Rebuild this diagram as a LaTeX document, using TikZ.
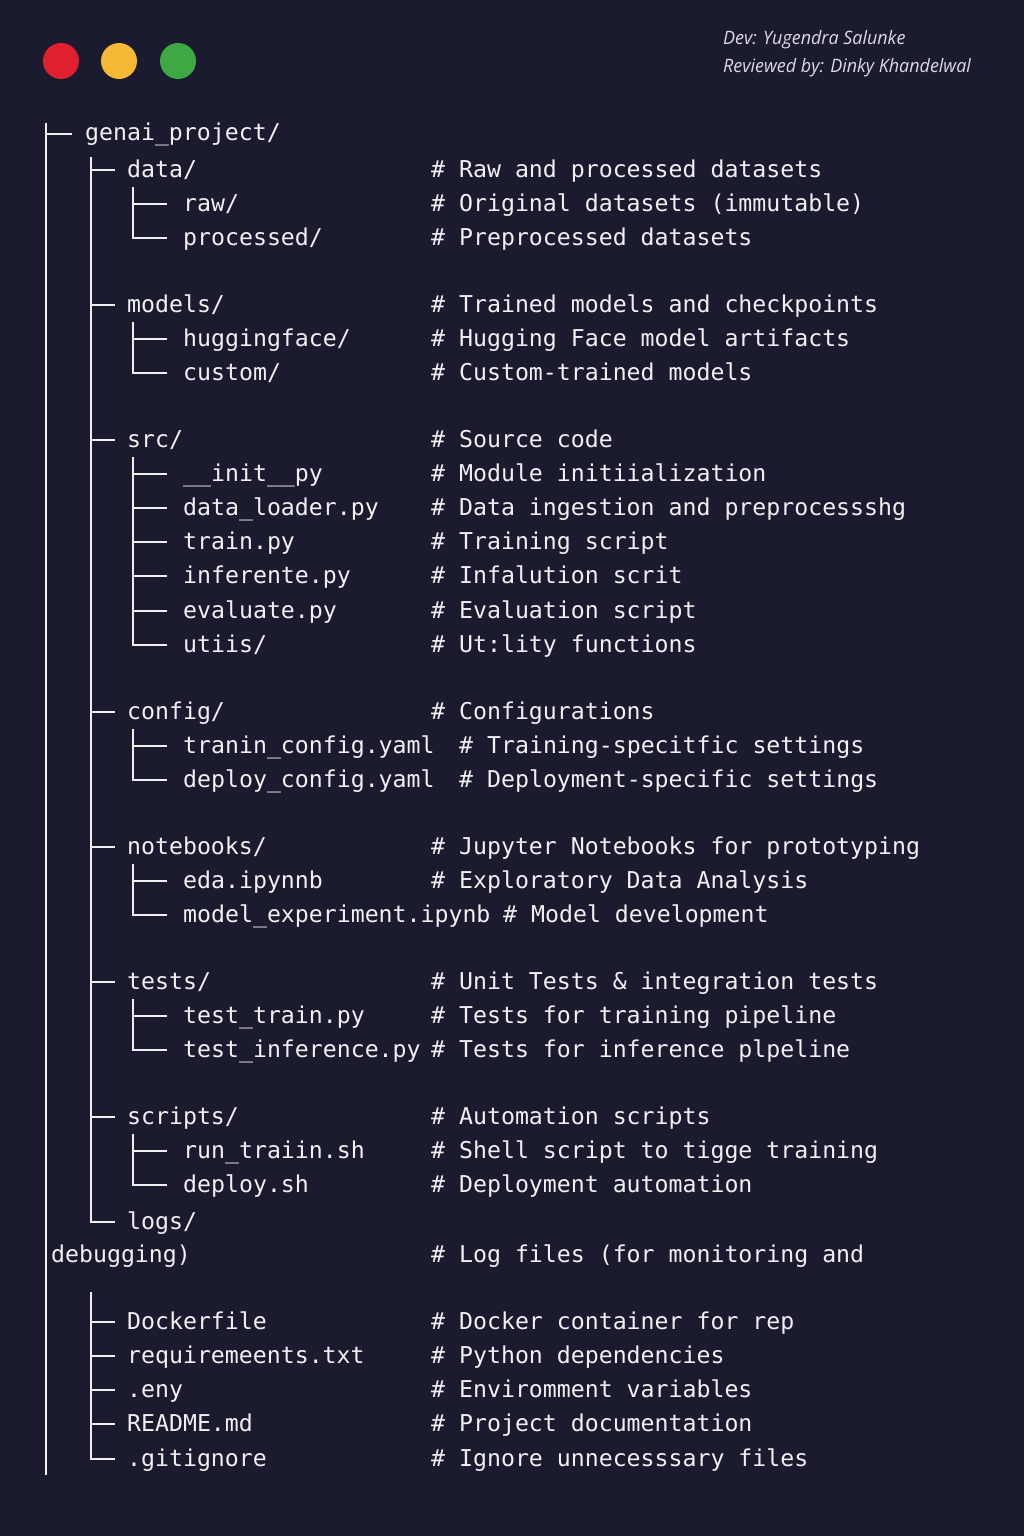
\documentclass[tikz,border=0pt]{standalone}
\usepackage{fontspec}
\newfontfamily\monofont{DejaVu Sans Mono}
\newfontfamily\signfont[FakeStretch=0.97]{Open Sans}
\definecolor{bg}{HTML}{1A1B2E}
\definecolor{fg}{HTML}{F0F0F2}
\definecolor{sg}{HTML}{DADBE2}
\definecolor{dred}{HTML}{E0202E}
\definecolor{dyel}{HTML}{F5B935}
\definecolor{dgrn}{HTML}{3EA843}
\newcommand\ent[6]{\node[tx] (#1) at (#2,#3+8) {#4}; \node[tx] (#1c) at (#5,#3+8) {#6};}
\begin{document}
\begin{tikzpicture}[x=1pt,y=-1pt,
  tx/.style={font=\monofont\fontsize{23.2}{28}\selectfont, text=fg, inner sep=0pt, anchor=base west},
  sign/.style={font=\signfont\itshape\fontsize{18.5}{21}\selectfont, text=sg, inner sep=0pt, anchor=base west},
  tree/.style={draw=fg, line width=2.2pt},
  dot/.style={circle, minimum size=36pt, inner sep=0pt}]
\fill[bg] (0,0) rectangle (1024,1536);
\useasboundingbox (0,0) rectangle (1024,1536);

% window dots
\node[dot, fill=dred] (d1) at (61,61) {};
\node[dot, fill=dyel] (d2) at (119,61) {};
\node[dot, fill=dgrn] (d3) at (178,61) {};

% signature
\node[sign] (dev) at (723,45) {Dev: Yugendra Salunke};
\node[sign] (rev) at (723,73) {Reviewed by: Dinky Khandelwal};

% tree lines
\draw[tree] (46,123) -- (46,1475);
\draw[tree] (46,134) -- (72,134);
\draw[tree] (91,157) |- (115,1222);
\foreach \yy in {170,305,440,712,847,982,1117} {\draw[tree] (91,\yy) -- (115,\yy);}
% level-2 groups
\draw[tree] (133,187) |- (167,238); \draw[tree] (133,204) -- (167,204);
\draw[tree] (133,322) |- (167,373); \draw[tree] (133,339) -- (167,339);
\draw[tree] (133,457) |- (167,645);
\foreach \yy in {474,508,542,576,611} {\draw[tree] (133,\yy) -- (167,\yy);}
\draw[tree] (133,729) |- (167,780); \draw[tree] (133,746) -- (167,746);
\draw[tree] (133,864) |- (167,915); \draw[tree] (133,881) -- (167,881);
\draw[tree] (133,999) |- (167,1050); \draw[tree] (133,1016) -- (167,1016);
\draw[tree] (133,1134) |- (167,1185); \draw[tree] (133,1151) -- (167,1151);
% bottom group
\draw[tree] (91,1292) |- (115,1459);
\foreach \yy in {1322,1356,1390,1424} {\draw[tree] (91,\yy) -- (115,\yy);}

% texts
\node[tx] (root) at (85,141) {genai\_project/};
\ent{data}{127}{169}{data/}{431}{\# Raw and processed datasets}
\ent{raw}{183}{203}{raw/}{431}{\# Original datasets (immutable)}
\ent{proc}{183}{237}{processed/}{431}{\# Preprocessed datasets}
\ent{models}{127}{304}{models/}{431}{\# Trained models and checkpoints}
\ent{hf}{183}{338}{huggingface/}{431}{\# Hugging Face model artifacts}
\ent{custom}{183}{372}{custom/}{431}{\# Custom-trained models}
\ent{src}{127}{439}{src/}{431}{\# Source code}
\ent{init}{183}{473}{\_\_init\_\_py}{431}{\# Module initiialization}
\ent{loader}{183}{507}{data\_loader.py}{431}{\# Data ingestion and preprocessshg}
\ent{train}{183}{541}{train.py}{431}{\# Training script}
\ent{infer}{183}{575}{inferente.py}{431}{\# Infalution scrit}
\ent{eval}{183}{610}{evaluate.py}{431}{\# Evaluation script}
\ent{utils}{183}{644}{utiis/}{431}{\# Ut:lity functions}
\ent{config}{127}{711}{config/}{431}{\# Configurations}
\ent{tcfg}{183}{745}{tranin\_config.yaml}{459}{\# Training-specitfic settings}
\ent{dcfg}{183}{779}{deploy\_config.yaml}{459}{\# Deployment-specific settings}
\ent{nb}{127}{846}{notebooks/}{431}{\# Jupyter Notebooks for prototyping}
\ent{eda}{183}{880}{eda.ipynnb}{431}{\# Exploratory Data Analysis}
\ent{mexp}{183}{914}{model\_experiment.ipynb}{503}{\# Model development}
\ent{tests}{127}{981}{tests/}{431}{\# Unit Tests \& integration tests}
\ent{ttrain}{183}{1015}{test\_train.py}{431}{\# Tests for training pipeline}
\ent{tinf}{183}{1049}{test\_inference.py}{431}{\# Tests for inference plpeline}
\ent{scripts}{127}{1116}{scripts/}{431}{\# Automation scripts}
\ent{run}{183}{1150}{run\_traiin.sh}{431}{\# Shell script to tigge training}
\ent{deploy}{183}{1184}{deploy.sh}{431}{\# Deployment automation}
\node[tx] (logs) at (127,1229) {logs/};
\ent{debug}{51}{1254}{debugging)}{431}{\# Log files (for monitoring and}
\ent{docker}{127}{1321}{Dockerfile}{431}{\# Docker container for rep}
\ent{req}{127}{1355}{requiremeents.txt}{431}{\# Python dependencies}
\ent{env}{127}{1389}{.eny}{431}{\# Enviromment variables}
\ent{readme}{127}{1423}{README.md}{431}{\# Project documentation}
\ent{gitig}{127}{1458}{.gitignore}{431}{\# Ignore unnecesssary files}
\end{tikzpicture}
\end{document}
